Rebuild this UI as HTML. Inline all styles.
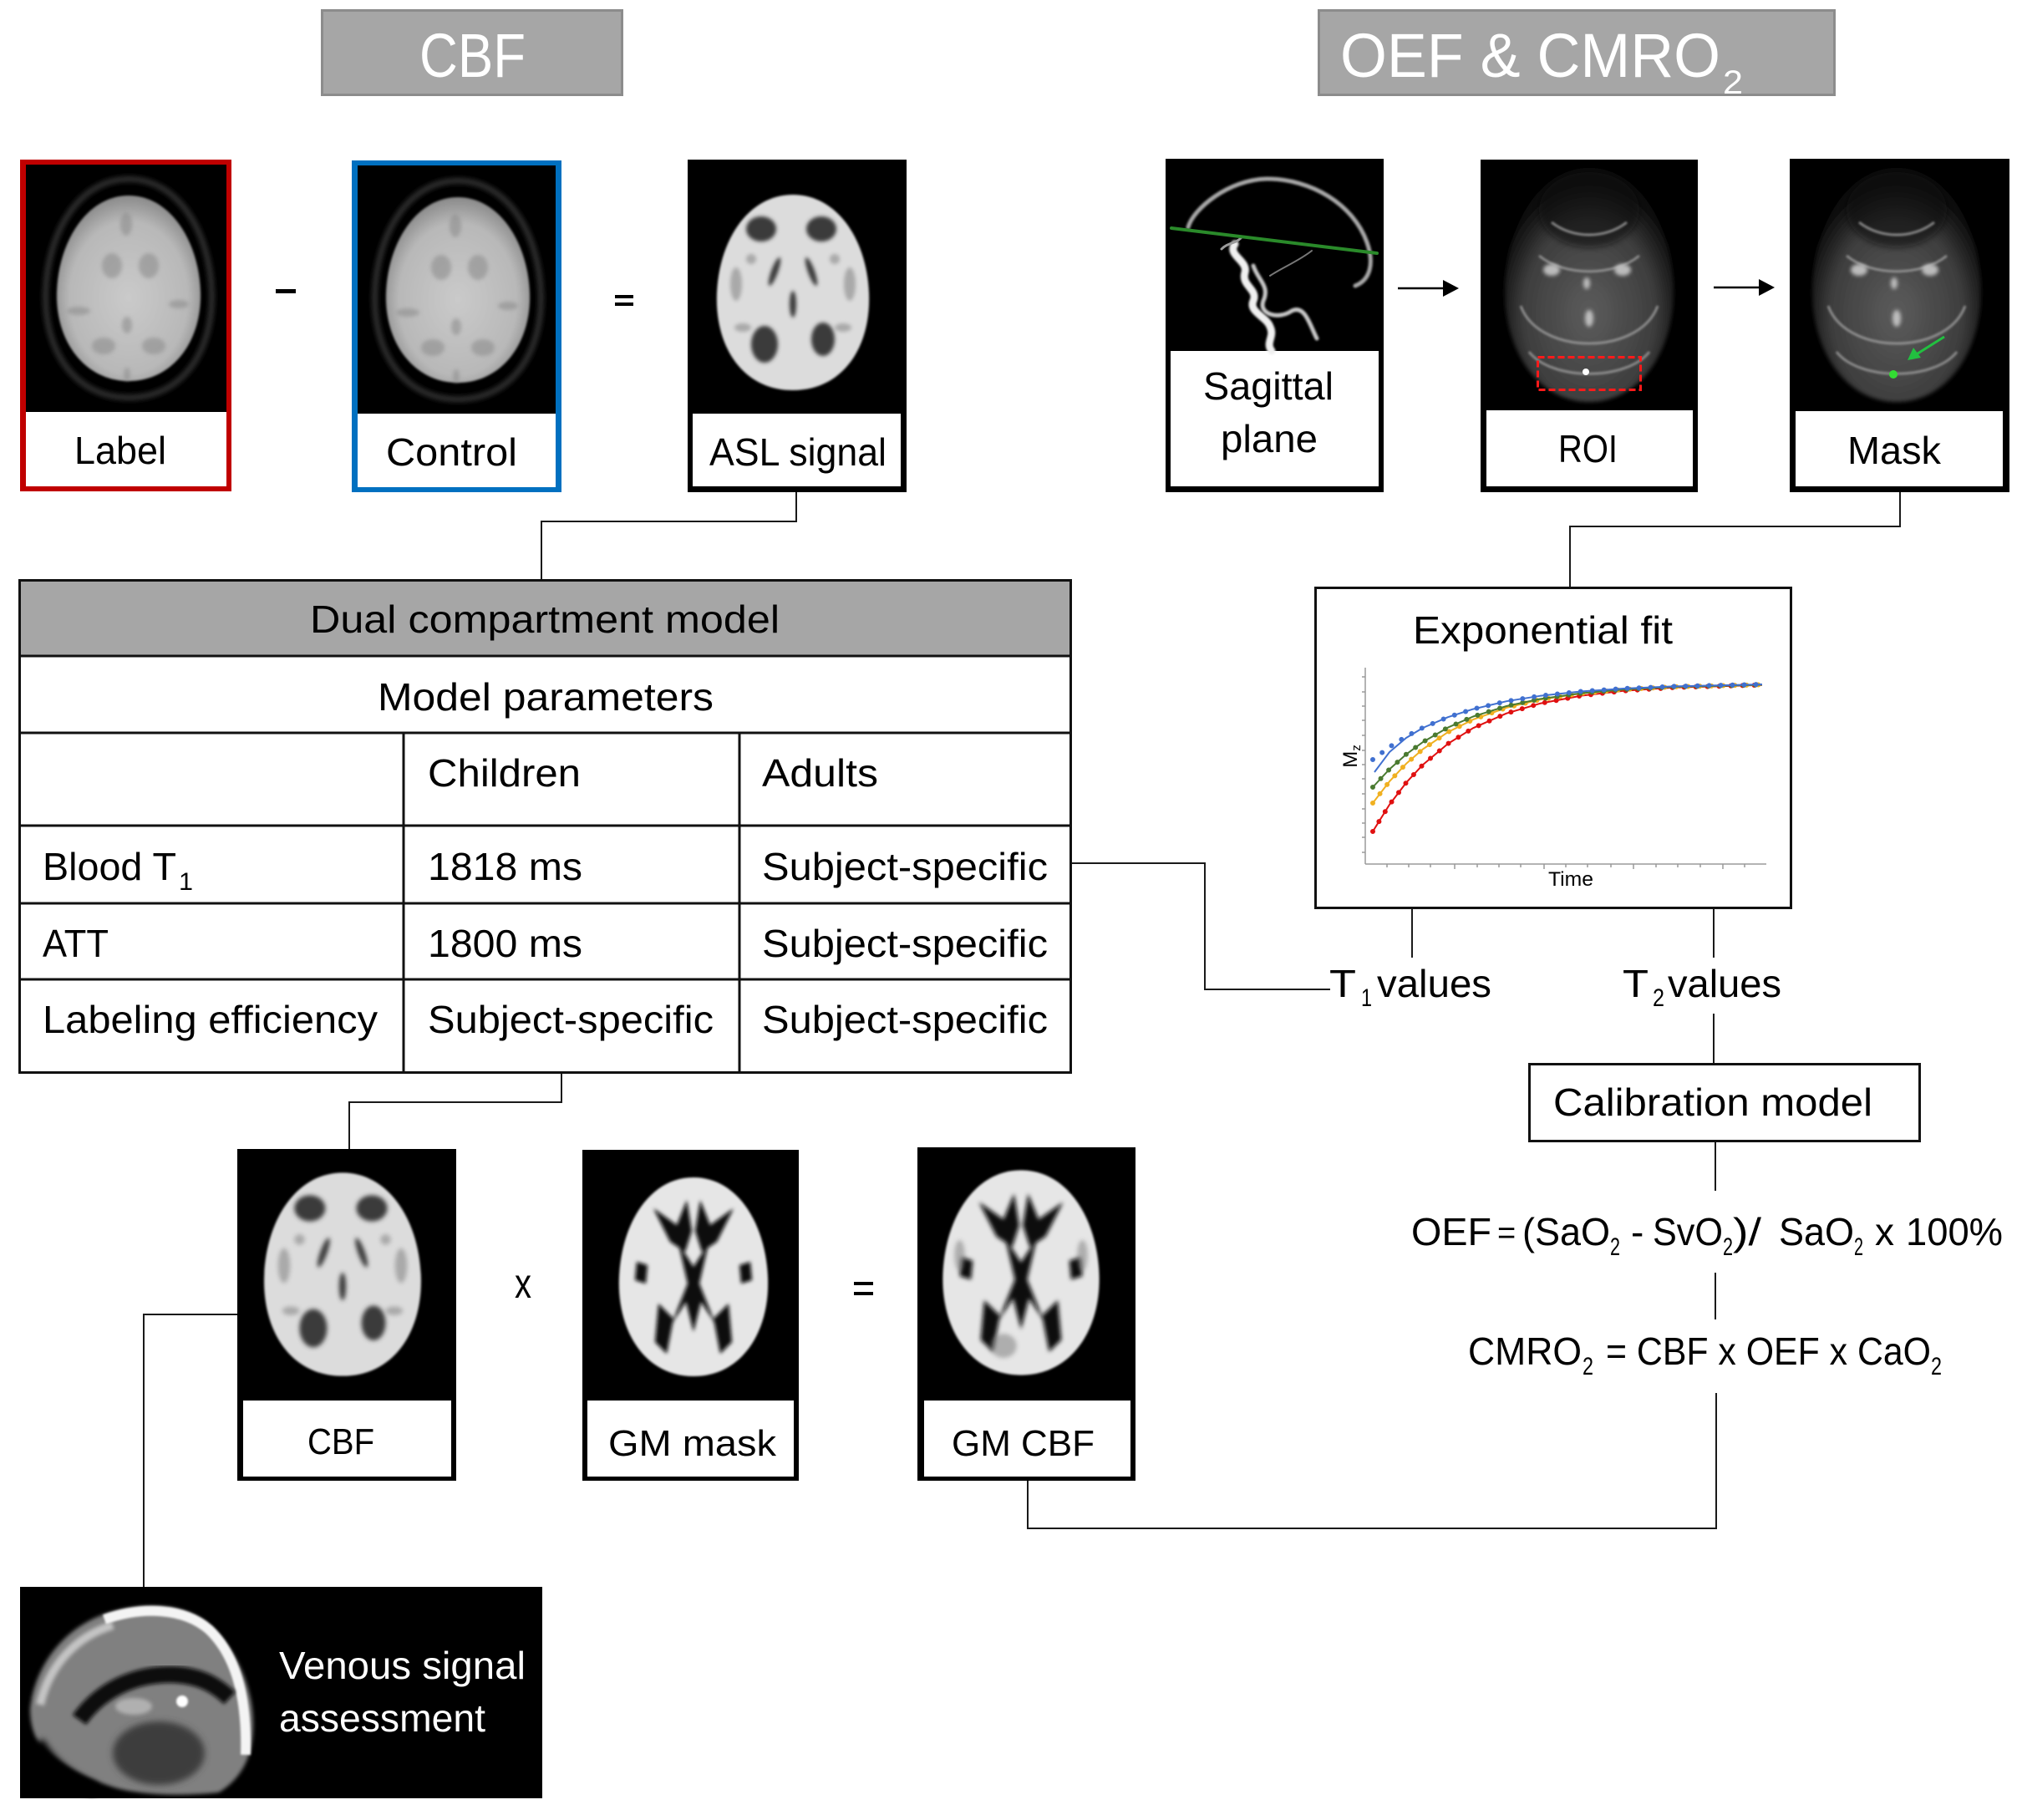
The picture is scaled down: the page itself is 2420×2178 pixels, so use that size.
<!DOCTYPE html>
<html><head><meta charset="utf-8"><style>
html,body{margin:0;padding:0;background:#fff;}
svg{display:block;}
text{font-family:"Liberation Sans",Arial,sans-serif;}
</style></head><body>
<svg width="2420" height="2178" viewBox="0 0 2420 2178" xmlns="http://www.w3.org/2000/svg">
<defs>
<filter id="b1" x="-20%" y="-20%" width="140%" height="140%"><feGaussianBlur stdDeviation="1.2"/></filter>
<filter id="b2" x="-20%" y="-20%" width="140%" height="140%"><feGaussianBlur stdDeviation="2.5"/></filter>
<filter id="b4" x="-20%" y="-20%" width="140%" height="140%"><feGaussianBlur stdDeviation="4"/></filter>
<radialGradient id="gT1" cx="50%" cy="55%" r="55%"><stop offset="0" stop-color="#cacaca"/><stop offset="0.75" stop-color="#b8b8b8"/><stop offset="1" stop-color="#8a8a8a"/></radialGradient>
<radialGradient id="gROI" cx="50%" cy="62%" r="55%"><stop offset="0" stop-color="#5c5c5c"/><stop offset="0.7" stop-color="#3e3e3e"/><stop offset="1" stop-color="#101010"/></radialGradient>
<g id="t1brain">
  <path d="M0,-120 C56,-120 90,-60 92,5 C94,70 60,122 0,122 C-60,122 -94,70 -92,5 C-90,-60 -56,-120 0,-120 Z" fill="none" stroke="#2c2c2c" stroke-width="7" filter="url(#b2)" transform="scale(1.08,1.08)"/>
  <path d="M0,-110 C50,-110 84,-55 86,5 C88,65 52,112 0,112 C-52,112 -88,65 -86,5 C-84,-55 -50,-110 0,-110 Z" fill="url(#gT1)" filter="url(#b1)"/>
  <g fill="#8e8e8e" opacity="0.6" filter="url(#b2)">
    <ellipse cx="-20" cy="-26" rx="12" ry="15"/><ellipse cx="24" cy="-26" rx="12" ry="15"/>
    <ellipse cx="-3" cy="-76" rx="7" ry="14"/><ellipse cx="-60" cy="28" rx="14" ry="5"/>
    <ellipse cx="60" cy="20" rx="12" ry="5"/><ellipse cx="-2" cy="45" rx="6" ry="10"/>
    <ellipse cx="-30" cy="70" rx="14" ry="10"/><ellipse cx="30" cy="70" rx="14" ry="10"/>
    <ellipse cx="-2" cy="104" rx="4" ry="8"/>
  </g>
</g>
<g id="cbfbrain">
  <path d="M0,-117 C52,-117 88,-65 91,0 C94,65 60,117 0,117 C-60,117 -94,65 -91,0 C-88,-65 -52,-117 0,-117 Z" fill="#dcdcdc" filter="url(#b1)"/>
  <g fill="#3a3a3a" filter="url(#b2)">
    <ellipse cx="-38" cy="-76" rx="18" ry="15"/><ellipse cx="34" cy="-76" rx="18" ry="15"/>
    <ellipse cx="-34" cy="62" rx="16" ry="22"/><ellipse cx="36" cy="56" rx="14" ry="20"/>
    <ellipse cx="0" cy="14" rx="4" ry="16"/>
    <ellipse cx="-22" cy="-25" rx="4" ry="18" transform="rotate(20 -22 -25)"/>
    <ellipse cx="22" cy="-25" rx="4" ry="18" transform="rotate(-20 22 -25)"/>
  </g>
  <g fill="#808080" opacity="0.55" filter="url(#b2)">
    <ellipse cx="-68" cy="-10" rx="7" ry="20"/><ellipse cx="68" cy="-10" rx="7" ry="20"/>
    <ellipse cx="-60" cy="42" rx="10" ry="5"/><ellipse cx="60" cy="42" rx="10" ry="5"/>
    <ellipse cx="-50" cy="-40" rx="6" ry="6"/><ellipse cx="50" cy="-40" rx="6" ry="6"/>
  </g>
</g>
<g id="gmbrain">
  <path d="M0,-119 C52,-119 86,-65 89,0 C92,65 58,119 0,119 C-58,119 -92,65 -89,0 C-86,-65 -52,-119 0,-119 Z" fill="#e6e6e6" filter="url(#b1)"/>
  <g fill="#080808" filter="url(#b2)">
    <path d="M-48,-82 L-20,-62 L-8,-92 L-2,-55 L-10,-30 L-28,-42 Z"/>
    <path d="M48,-82 L20,-62 L8,-92 L2,-55 L10,-30 L28,-42 Z"/>
    <path d="M-18,-40 L0,-12 L18,-40 L7,8 L26,56 L9,30 L0,66 L-9,30 L-26,56 L-7,8 Z"/>
    <path d="M-42,32 L-24,50 L-32,92 L-46,78 Z"/>
    <path d="M42,32 L24,50 L32,92 L46,78 Z"/>
    <path d="M-68,-18 L-55,-14 L-57,8 L-70,4 Z"/>
    <path d="M68,-18 L55,-14 L57,8 L70,4 Z"/>
  </g>
</g>
<g id="roibrain">
  <path d="M0,-140 C60,-140 100,-70 101,5 C102,80 60,140 0,140 C-60,140 -102,80 -101,5 C-100,-70 -60,-140 0,-140 Z" fill="url(#gROI)" filter="url(#b2)"/>
  <ellipse cx="0" cy="-90" rx="60" ry="45" fill="#0c0c0c" opacity="0.6" filter="url(#b4)"/>
  <g fill="none" stroke="#9a9a9a" stroke-width="3" opacity="0.85" filter="url(#b1)">
    <path d="M-82,25 C-60,85 60,85 82,25"/>
    <path d="M-72,80 C-45,115 45,115 72,80"/>
    <path d="M-60,-35 C-30,-10 30,-10 60,-35"/>
    <path d="M-45,-75 C-20,-55 20,-55 45,-75"/>
  </g>
  <g fill="#d0d0d0" opacity="0.85" filter="url(#b2)">
    <ellipse cx="-45" cy="-18" rx="10" ry="7"/><ellipse cx="40" cy="-18" rx="10" ry="7"/>
    <ellipse cx="0" cy="40" rx="5" ry="10"/><ellipse cx="-3" cy="-2" rx="4" ry="7"/>
  </g>
</g>
</defs>

<rect x="0" y="0" width="2420" height="2178" fill="#fff"/>

<!-- Title boxes -->
<rect x="385.5" y="12.5" width="359" height="101" fill="#a6a6a6" stroke="#8c8c8c" stroke-width="3"/>
<text x="502" y="92" font-size="74" fill="#fff" textLength="127" lengthAdjust="spacingAndGlyphs">CBF</text>
<rect x="1578.5" y="12.5" width="617" height="101" fill="#a6a6a6" stroke="#8c8c8c" stroke-width="3"/>
<text x="1604" y="92" font-size="74" fill="#fff" textLength="455" lengthAdjust="spacingAndGlyphs">OEF &amp; CMRO</text>
<text x="2062" y="112" font-size="40" fill="#fff" textLength="24" lengthAdjust="spacingAndGlyphs">2</text>

<!-- Label box -->
<rect x="24" y="191" width="253" height="397" fill="#c00000"/>
<rect x="31" y="197" width="240" height="385" fill="#fff"/>
<rect x="31" y="197" width="240" height="296" fill="#000"/>
<use href="#t1brain" transform="translate(154,344)"/>
<text x="89" y="555" font-size="46" textLength="110" lengthAdjust="spacingAndGlyphs">Label</text>

<!-- minus -->
<rect x="330" y="346" width="24" height="5" fill="#000"/>

<!-- Control box -->
<rect x="421" y="192" width="251" height="397" fill="#0070c0"/>
<rect x="428" y="198" width="237" height="385" fill="#fff"/>
<rect x="428" y="198" width="237" height="297" fill="#000"/>
<use href="#t1brain" transform="translate(548,346)"/>
<text x="462" y="557" font-size="46" textLength="157" lengthAdjust="spacingAndGlyphs">Control</text>

<!-- equals -->
<rect x="736" y="353" width="22" height="4" fill="#000"/>
<rect x="736" y="362" width="22" height="4" fill="#000"/>

<!-- ASL box -->
<rect x="823" y="191" width="262" height="398" fill="#000"/>
<rect x="829" y="495" width="249" height="87" fill="#fff"/>
<use href="#cbfbrain" transform="translate(949,350)"/>
<text x="849" y="557" font-size="46" textLength="212" lengthAdjust="spacingAndGlyphs">ASL signal</text>

<!-- Sagittal box -->
<rect x="1395" y="190" width="261" height="399" fill="#000"/>
<rect x="1401" y="420" width="249" height="162" fill="#fff"/>
<g fill="none" stroke-linecap="round">
  <path d="M1422,272 C1428,250 1470,215 1516,214 C1570,214 1620,245 1636,290 C1645,315 1640,335 1622,342" stroke="#a8a8a8" stroke-width="5" filter="url(#b1)"/>
  <path d="M1478,292 C1468,305 1494,312 1490,326 C1485,342 1506,346 1500,360 C1494,373 1516,379 1520,391 C1526,403 1514,410 1522,420" stroke="#f0f0f0" stroke-width="9" filter="url(#b1)"/>
  <path d="M1500,318 C1506,336 1520,342 1512,360 C1506,376 1530,383 1546,372 C1562,364 1568,390 1576,405" stroke="#c8c8c8" stroke-width="5" filter="url(#b1)"/>
  <path d="M1462,298 C1470,290 1478,292 1485,285" stroke="#9a9a9a" stroke-width="3"/>
  <path d="M1520,330 C1535,320 1555,312 1570,300" stroke="#777" stroke-width="2"/>
  <path d="M1402,273 L1648,303" stroke="#2a8a2a" stroke-width="4"/>
</g>
<text x="1440" y="478" font-size="46" textLength="156" lengthAdjust="spacingAndGlyphs">Sagittal</text>
<text x="1461" y="541" font-size="46" textLength="116" lengthAdjust="spacingAndGlyphs">plane</text>

<!-- arrow 1 -->
<line x1="1673" y1="345" x2="1730" y2="345" stroke="#000" stroke-width="2.5"/>
<polygon points="1727,335 1746,345 1727,355" fill="#000"/>

<!-- ROI box -->
<rect x="1772" y="191" width="260" height="398" fill="#000"/>
<rect x="1779" y="491" width="247" height="91" fill="#fff"/>
<use href="#roibrain" transform="translate(1902,341)"/>
<rect x="1840.5" y="427.5" width="123" height="39" fill="none" stroke="#ff1a1a" stroke-width="3" stroke-dasharray="8,4"/>
<circle cx="1898" cy="445" r="4" fill="#fff"/>
<text x="1865" y="553" font-size="46" textLength="71" lengthAdjust="spacingAndGlyphs">ROI</text>

<!-- arrow 2 -->
<line x1="2051" y1="344" x2="2108" y2="344" stroke="#000" stroke-width="2.5"/>
<polygon points="2105,334 2124,344 2105,354" fill="#000"/>

<!-- Mask box -->
<rect x="2142" y="190" width="263" height="399" fill="#000"/>
<rect x="2149" y="492" width="248" height="90" fill="#fff"/>
<use href="#roibrain" transform="translate(2270,341)"/>
<line x1="2327" y1="403" x2="2292" y2="425" stroke="#22c040" stroke-width="3"/>
<polygon points="2283,431 2290,416 2299,428" fill="#22c040"/>
<circle cx="2266" cy="448" r="5" fill="#33dd33"/>
<text x="2211" y="555" font-size="46" textLength="112" lengthAdjust="spacingAndGlyphs">Mask</text>

<!-- Connectors -->
<g fill="none" stroke="#1a1a1a" stroke-width="2">
  <polyline points="953,589 953,624 648,624 648,693"/>
  <polyline points="1283,1033 1442,1033 1442,1184 1592,1184"/>
  <polyline points="672,1285 672,1319 418,1319 418,1375"/>
  <polyline points="284,1573 172,1573 172,1899"/>
  <polyline points="1230,1772 1230,1829 2054,1829 2054,1667"/>
  <polyline points="2274,589 2274,630 1879,630 1879,702"/>
  <line x1="1690" y1="1088" x2="1690" y2="1146"/>
  <line x1="2051" y1="1088" x2="2051" y2="1146"/>
  <line x1="2051" y1="1213" x2="2051" y2="1272"/>
  <line x1="2053" y1="1367" x2="2053" y2="1425"/>
  <line x1="2053" y1="1523" x2="2053" y2="1579"/>
</g>

<!-- Table -->
<rect x="23.5" y="694.5" width="1258" height="90" fill="#a6a6a6"/>
<g fill="none" stroke="#111" stroke-width="3">
  <rect x="23.5" y="694.5" width="1258" height="589"/>
  <line x1="23" y1="785" x2="1283" y2="785"/>
  <line x1="23" y1="877" x2="1283" y2="877"/>
  <line x1="23" y1="988" x2="1283" y2="988"/>
  <line x1="23" y1="1081" x2="1283" y2="1081"/>
  <line x1="23" y1="1172" x2="1283" y2="1172"/>
  <line x1="483" y1="877" x2="483" y2="1285"/>
  <line x1="885" y1="877" x2="885" y2="1285"/>
</g>
<g font-size="46">
<text x="371" y="757" textLength="562" lengthAdjust="spacingAndGlyphs">Dual compartment model</text>
<text x="452" y="850" textLength="402" lengthAdjust="spacingAndGlyphs">Model parameters</text>
<text x="512" y="941" textLength="183" lengthAdjust="spacingAndGlyphs">Children</text>
<text x="912" y="941" textLength="139" lengthAdjust="spacingAndGlyphs">Adults</text>
<text x="51" y="1053" textLength="160" lengthAdjust="spacingAndGlyphs">Blood T</text>
<text x="512" y="1053" textLength="185" lengthAdjust="spacingAndGlyphs">1818 ms</text>
<text x="912" y="1053" textLength="342" lengthAdjust="spacingAndGlyphs">Subject-specific</text>
<text x="51" y="1145" textLength="79" lengthAdjust="spacingAndGlyphs">ATT</text>
<text x="512" y="1145" textLength="185" lengthAdjust="spacingAndGlyphs">1800 ms</text>
<text x="912" y="1145" textLength="342" lengthAdjust="spacingAndGlyphs">Subject-specific</text>
<text x="51" y="1236" textLength="401" lengthAdjust="spacingAndGlyphs">Labeling efficiency</text>
<text x="512" y="1236" textLength="342" lengthAdjust="spacingAndGlyphs">Subject-specific</text>
<text x="912" y="1236" textLength="342" lengthAdjust="spacingAndGlyphs">Subject-specific</text>
</g>
<text x="214" y="1065" font-size="30" textLength="17" lengthAdjust="spacingAndGlyphs">1</text>

<!-- Bottom row: CBF -->
<rect x="284" y="1375" width="262" height="397" fill="#000"/>
<rect x="291" y="1676" width="249" height="91" fill="#fff"/>
<use href="#cbfbrain" transform="translate(410,1525) scale(1.03,1.04)"/>
<text x="368" y="1740" font-size="44" textLength="80" lengthAdjust="spacingAndGlyphs">CBF</text>

<text x="616" y="1553" font-size="50" textLength="20" lengthAdjust="spacingAndGlyphs">x</text>

<!-- GM mask -->
<rect x="697" y="1376" width="259" height="396" fill="#000"/>
<rect x="703" y="1676" width="247" height="91" fill="#fff"/>
<use href="#gmbrain" transform="translate(830,1528)"/>
<text x="728" y="1742" font-size="44" textLength="201" lengthAdjust="spacingAndGlyphs">GM mask</text>

<rect x="1022" y="1534" width="23" height="4" fill="#000"/>
<rect x="1022" y="1546" width="23" height="4" fill="#000"/>

<!-- GM CBF -->
<rect x="1098" y="1373" width="261" height="399" fill="#000"/>
<rect x="1106" y="1676" width="247" height="91" fill="#fff"/>
<g transform="translate(1222,1523) scale(1.05,1.03)">
  <use href="#gmbrain"/>
  <g fill="#777" opacity="0.5" filter="url(#b2)">
    <ellipse cx="-70" cy="-20" rx="6" ry="18"/><ellipse cx="70" cy="-20" rx="6" ry="18"/>
    <ellipse cx="-20" cy="85" rx="15" ry="14"/>
  </g>
</g>
<text x="1139" y="1742" font-size="44" textLength="171" lengthAdjust="spacingAndGlyphs">GM CBF</text>

<!-- Venous signal -->
<rect x="24" y="1899" width="625" height="253" fill="#000"/>
<g>
  <path d="M36,2045 C42,1990 80,1945 130,1930 C170,1918 215,1918 245,1940 C280,1968 302,2015 303,2060 C304,2100 290,2128 262,2145 C220,2150 170,2148 140,2140 C100,2128 70,2110 50,2090 C40,2078 36,2062 36,2045 Z" fill="#808080" filter="url(#b2)"/>
  <path d="M48,2040 C58,1995 90,1958 135,1945" fill="none" stroke="#c4c4c4" stroke-width="10" filter="url(#b2)"/>
  <path d="M125,1938 C170,1922 220,1924 250,1950 C282,1980 296,2030 294,2100" fill="none" stroke="#f4f4f4" stroke-width="12" filter="url(#b1)"/>
  <path d="M95,2058 C122,2020 165,2002 210,2004 C240,2006 258,2016 275,2032" fill="none" stroke="#0a0a0a" stroke-width="20" filter="url(#b2)"/>
  <ellipse cx="190" cy="2098" rx="55" ry="38" fill="#3c3c3c" filter="url(#b4)"/>
  <ellipse cx="160" cy="2042" rx="22" ry="10" fill="#b0b0b0" filter="url(#b2)"/>
  <circle cx="218" cy="2036" r="7" fill="#fff" filter="url(#b1)"/>
  <path d="M45,2085 C60,2112 85,2130 115,2142" fill="none" stroke="#000" stroke-width="16" filter="url(#b4)"/>
</g>
<text x="334" y="2009" font-size="46" fill="#fff" textLength="295" lengthAdjust="spacingAndGlyphs">Venous signal</text>
<text x="334" y="2072" font-size="46" fill="#fff" textLength="247" lengthAdjust="spacingAndGlyphs">assessment</text>

<!-- Exponential fit box -->
<rect x="1574.5" y="703.5" width="569" height="383" fill="#fff" stroke="#111" stroke-width="3"/>
<text x="1691" y="770" font-size="46" textLength="311" lengthAdjust="spacingAndGlyphs">Exponential fit</text>
<g stroke="#9a9a9a" stroke-width="1.5" fill="none">
  <line x1="1634" y1="799" x2="1634" y2="1034"/>
  <line x1="1634" y1="1034" x2="2114" y2="1034"/>
  <path d="M1630,810h4M1630,828h4M1630,845h4M1630,862h4M1630,880h4M1630,898h4M1630,915h4M1630,932h4M1630,950h4M1630,968h4M1630,985h4M1630,1002h4M1630,1020h4"/>
  <path d="M1660,1034v4M1686,1034v4M1712,1034v4M1741,1034v6M1768,1034v4M1794,1034v4M1820,1034v4M1848,1034v6M1874,1034v4M1900,1034v4M1928,1034v4M1955,1034v6M1982,1034v4M2008,1034v4M2035,1034v4M2062,1034v6M2088,1034v4"/>
</g>
<text x="1880" y="1060" font-size="24" text-anchor="middle" textLength="54" lengthAdjust="spacingAndGlyphs">Time</text>
<text transform="rotate(-90 1624 905)" x="1624" y="905" font-size="24" text-anchor="middle">M<tspan font-size="15" dy="4">z</tspan></text>
<g fill="none" stroke-linejoin="round">
  <polyline points="1643,995 1663,962.9 1683,936.6 1703,915.1 1733,890 1763,871.3 1803,853.7 1843,841.9 1893,832.5 1943,826.8 2003,822.8 2109,819.7" stroke="#e01010" stroke-width="2"/>
  <polyline points="1643,995 1663,962.9 1683,936.6 1703,915.1 1733,890 1763,871.3 1803,853.7 1843,841.9 1893,832.5 1943,826.8 2003,822.8 2109,819.7" stroke="#e01010" stroke-width="6" stroke-linecap="round" stroke-dasharray="0,14"/>
  <polyline points="1643,961 1663,935.1 1683,913.9 1703,896.5 1733,876.1 1763,861.1 1803,846.9 1843,837.3 1893,829.7 1943,825.1 2003,821.9 2109,819.4" stroke="#f0b020" stroke-width="2"/>
  <polyline points="1643,961 1663,935.1 1683,913.9 1703,896.5 1733,876.1 1763,861.1 1803,846.9 1843,837.3 1893,829.7 1943,825.1 2003,821.9 2109,819.4" stroke="#f0b020" stroke-width="6" stroke-linecap="round" stroke-dasharray="0,14"/>
  <polyline points="1643,942 1663,920.5 1683,902.7 1703,888 1733,870.6 1763,857.5 1803,845 1843,836.5 1893,829.5 1943,825.1 2003,822 2109,819.5" stroke="#4a7a30" stroke-width="2"/>
  <polyline points="1643,942 1663,920.5 1683,902.7 1703,888 1733,870.6 1763,857.5 1803,845 1843,836.5 1893,829.5 1943,825.1 2003,822 2109,819.5" stroke="#4a7a30" stroke-width="6" stroke-linecap="round" stroke-dasharray="0,14"/>
  <polyline points="1645,924 1663,900 1683,883 1703,871 1733,858.2 1763,848.6 1803,839.2 1843,832.8 1893,827.4 1943,824 2003,821.4 2109,819" stroke="#4070d0" stroke-width="2"/>
  <polyline points="1643,909 1663,893.9 1683,881.3 1703,870.7 1733,858.2 1763,848.6 1803,839.2 1843,832.8 1893,827.4 1943,824 2003,821.4 2109,819" stroke="#4070d0" stroke-width="6" stroke-linecap="round" stroke-dasharray="0,14"/>
</g>

<!-- T1 / T2 values -->
<text x="1591" y="1193" font-size="46" textLength="32" lengthAdjust="spacingAndGlyphs">T</text>
<text x="1629" y="1204" font-size="30" textLength="13" lengthAdjust="spacingAndGlyphs">1</text>
<text x="1648" y="1193" font-size="46" textLength="137" lengthAdjust="spacingAndGlyphs">values</text>
<text x="1942" y="1193" font-size="46" textLength="31" lengthAdjust="spacingAndGlyphs">T</text>
<text x="1978" y="1204" font-size="30" textLength="14" lengthAdjust="spacingAndGlyphs">2</text>
<text x="1996" y="1193" font-size="46" textLength="136" lengthAdjust="spacingAndGlyphs">values</text>

<!-- Calibration model -->
<rect x="1830.5" y="1273.5" width="467" height="92" fill="#fff" stroke="#111" stroke-width="3"/>
<text x="1859" y="1335" font-size="46" textLength="382" lengthAdjust="spacingAndGlyphs">Calibration model</text>

<!-- OEF formula -->
<g font-size="46">
<text x="1689" y="1490" textLength="96" lengthAdjust="spacingAndGlyphs">OEF</text>
<text x="1792" y="1488" font-size="38">=</text>
<text x="1822" y="1490" textLength="105" lengthAdjust="spacingAndGlyphs">(SaO</text>
<text x="1952" y="1490">-</text>
<text x="1978" y="1490" textLength="84" lengthAdjust="spacingAndGlyphs">SvO</text>
<text x="2074" y="1490" textLength="34" lengthAdjust="spacingAndGlyphs">)/</text>
<text x="2129" y="1490" textLength="90" lengthAdjust="spacingAndGlyphs">SaO</text>
<text x="2244" y="1490">x</text>
<text x="2281" y="1490" textLength="116" lengthAdjust="spacingAndGlyphs">100%</text>
<text x="1757" y="1633" textLength="136" lengthAdjust="spacingAndGlyphs">CMRO</text>
<text x="1922" y="1633" textLength="389" lengthAdjust="spacingAndGlyphs">= CBF x OEF x CaO</text>
</g>
<g font-size="30">
<text x="1927" y="1502" textLength="12" lengthAdjust="spacingAndGlyphs">2</text>
<text x="2062" y="1502" textLength="12" lengthAdjust="spacingAndGlyphs">2</text>
<text x="2219" y="1502" textLength="11" lengthAdjust="spacingAndGlyphs">2</text>
<text x="1894" y="1645" textLength="13" lengthAdjust="spacingAndGlyphs">2</text>
<text x="2311" y="1645" textLength="13" lengthAdjust="spacingAndGlyphs">2</text>
</g>
</svg>
</body></html>
